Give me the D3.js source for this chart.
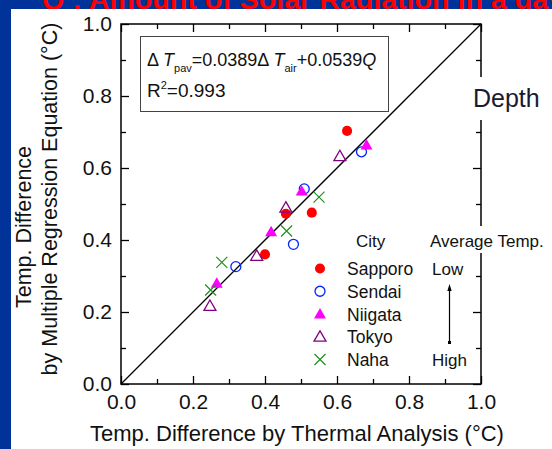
<!DOCTYPE html>
<html><head><meta charset="utf-8">
<script src="https://cdn.jsdelivr.net/npm/d3@7"></script>
<style>html,body{margin:0;padding:0;background:#fff;}svg{display:block;}</style>
</head><body>
<svg id="c" width="552" height="449"></svg>
<script>
// ---- data ----
const cities = ["Sapporo", "Sendai", "Niigata", "Tokyo", "Naha"];
const sapporoX = [0.628, 0.530, 0.458, 0.400];
const sapporoY = [0.703, 0.476, 0.473, 0.360];
const sendaiX  = [0.668, 0.509, 0.479, 0.319];
const sendaiY  = [0.645, 0.542, 0.388, 0.326];
const niigataX = [0.682, 0.502, 0.417, 0.266];
const niigataY = [0.664, 0.536, 0.423, 0.280];
const tokyoX   = [0.608, 0.458, 0.377, 0.247];
const tokyoY   = [0.633, 0.490, 0.356, 0.217];
const nahaX    = [0.550, 0.460, 0.280, 0.249];
const nahaY    = [0.519, 0.425, 0.338, 0.261];
const majorTicks = [0.0, 0.2, 0.4, 0.6, 0.8, 1.0];
const minorTicks = [0.1, 0.3, 0.5, 0.7, 0.9];
const fitLine = [0, 1];

const seriesX = [sapporoX, sendaiX, niigataX, tokyoX, nahaX];
const seriesY = [sapporoY, sendaiY, niigataY, tokyoY, nahaY];

const styles = [
  {type: d3.symbolCircle, size: 80, fill: "#ff0000", stroke: "none"},
  {type: d3.symbolCircle, size: 78, fill: "none", stroke: "#0022ff"},
  {type: d3.symbolTriangle, size: 62, fill: "#ff00ff", stroke: "none"},
  {type: d3.symbolTriangle, size: 62, fill: "none", stroke: "#800080"},
  {type: "x", size: 5.5, fill: "none", stroke: "#1f8f1f"}
];

const svg = d3.select("#c");
const font = "Arial, 'Liberation Sans', sans-serif";

// slide background
svg.append("rect").attr("width", 552).attr("height", 449).attr("fill", "#003399");
svg.append("text").attr("x", 42).attr("y", 9)
  .attr("font-family", font).attr("font-size", 27).attr("font-weight", "bold")
  .attr("textLength", 522).attr("lengthAdjust", "spacingAndGlyphs")
  .attr("fill", "#ff0000").text("Q : Amount of Solar Radiation in a day");
svg.append("rect").attr("x", 11).attr("y", 9).attr("width", 541).attr("height", 440).attr("fill", "#fff");

const x = d3.scaleLinear().domain([0, 1]).range([121, 481]);
const y = d3.scaleLinear().domain([0, 1]).range([384, 24]);

function styleAxis(g) {
  g.select(".domain").remove();
  g.selectAll("line").attr("stroke", "#000").attr("stroke-width", 1.3);
  g.selectAll("text").attr("font-family", font).attr("font-size", 21).attr("fill", "#111");
}

// major axes with labels
svg.append("g").attr("transform", `translate(0,${y(0)})`)
  .call(d3.axisBottom(x).tickValues(majorTicks).tickSizeInner(-8).tickSizeOuter(0)
    .tickPadding(10).tickFormat(d3.format(".1f"))).call(styleAxis);
svg.append("g").attr("transform", `translate(${x(0)},0)`)
  .call(d3.axisLeft(y).tickValues(majorTicks).tickSizeInner(-8).tickSizeOuter(0)
    .tickPadding(9).tickFormat(d3.format(".1f"))).call(styleAxis);
// minor ticks
svg.append("g").attr("transform", `translate(0,${y(0)})`)
  .call(d3.axisBottom(x).tickValues(minorTicks).tickSizeInner(-5).tickSizeOuter(0).tickFormat("")).call(styleAxis);
svg.append("g").attr("transform", `translate(${x(0)},0)`)
  .call(d3.axisLeft(y).tickValues(minorTicks).tickSizeInner(-5).tickSizeOuter(0).tickFormat("")).call(styleAxis);
// top and right
svg.append("g").attr("transform", `translate(0,${y(1)})`)
  .call(d3.axisTop(x).tickValues(majorTicks).tickSizeInner(-8).tickSizeOuter(0).tickFormat("")).call(styleAxis);
svg.append("g").attr("transform", `translate(0,${y(1)})`)
  .call(d3.axisTop(x).tickValues(minorTicks).tickSizeInner(-5).tickSizeOuter(0).tickFormat("")).call(styleAxis);
svg.append("g").attr("transform", `translate(${x(1)},0)`)
  .call(d3.axisRight(y).tickValues(majorTicks).tickSizeInner(-8).tickSizeOuter(0).tickFormat("")).call(styleAxis);
svg.append("g").attr("transform", `translate(${x(1)},0)`)
  .call(d3.axisRight(y).tickValues(minorTicks).tickSizeInner(-5).tickSizeOuter(0).tickFormat("")).call(styleAxis);

// frame
svg.append("rect").attr("x", x(0)).attr("y", y(1)).attr("width", x(1) - x(0)).attr("height", y(0) - y(1))
  .attr("fill", "none").attr("stroke", "#000").attr("stroke-width", 1.5);

// 1:1 line
svg.append("line").attr("x1", x(fitLine[0])).attr("y1", y(fitLine[0]))
  .attr("x2", x(fitLine[1])).attr("y2", y(fitLine[1]))
  .attr("stroke", "#000").attr("stroke-width", 1.3);

// marker drawing
function marker(g, st, cx, cy) {
  if (st.type === "x") {
    const s = st.size;
    g.append("path").attr("d", `M${cx - s},${cy - s}L${cx + s},${cy + s}M${cx - s},${cy + s}L${cx + s},${cy - s}`)
      .attr("stroke", st.stroke).attr("stroke-width", 1.2).attr("fill", "none");
  } else {
    g.append("path").attr("d", d3.symbol().type(st.type).size(st.size)())
      .attr("transform", `translate(${cx},${cy + (st.type === d3.symbolTriangle ? 1 : 0)})`)
      .attr("fill", st.fill).attr("stroke", st.stroke).attr("stroke-width", 1.3);
  }
}

const pts = svg.append("g");
seriesX.forEach((xs, i) => {
  xs.forEach((v, j) => marker(pts, styles[i], x(v), y(seriesY[i][j])));
});

// equation box
svg.append("rect").attr("x", 140.5).attr("y", 36.5).attr("width", 248).attr("height", 75)
  .attr("fill", "#fff").attr("stroke", "#444").attr("stroke-width", 1);
const eq = svg.append("text").attr("x", 147).attr("y", 66).attr("font-family", font).attr("font-size", 18).attr("fill", "#111");
eq.append("tspan").text("\u0394 ");
eq.append("tspan").attr("font-style", "italic").text("T");
eq.append("tspan").attr("font-size", 11).attr("dy", 6).text("pav");
eq.append("tspan").attr("dy", -6).text("=0.0389\u0394 ");
eq.append("tspan").attr("font-style", "italic").text("T");
eq.append("tspan").attr("font-size", 11).attr("dy", 6).text("air");
eq.append("tspan").attr("dy", -6).text("+0.0539");
eq.append("tspan").attr("font-style", "italic").text("Q");
const r2 = svg.append("text").attr("x", 147).attr("y", 97).attr("font-family", font).attr("font-size", 19).attr("fill", "#111");
r2.append("tspan").text("R");
r2.append("tspan").attr("font-size", 11).attr("dy", -8).text("2");
r2.append("tspan").attr("dy", 8).text("=0.993");

// Depth label (with white background)
svg.append("rect").attr("x", 470).attr("y", 77).attr("width", 82).attr("height", 43).attr("fill", "#fff");
svg.append("text").attr("x", 473).attr("y", 107).attr("font-family", font).attr("font-size", 25)
  .attr("fill", "#1a1a30").text("Depth");

// legend
svg.append("rect").attr("x", 428).attr("y", 226).attr("width", 118).attr("height", 27).attr("fill", "#fff");
svg.append("text").attr("x", 356).attr("y", 247).attr("font-family", font).attr("font-size", 17).attr("fill", "#111").text("City");
svg.append("text").attr("x", 430).attr("y", 247).attr("font-family", font).attr("font-size", 17).attr("fill", "#111").text("Average Temp.");
const leg = svg.append("g");
cities.forEach((c, i) => {
  const by = 275 + i * 22.75;
  marker(leg, styles[i], 320, by - 6.5);
  leg.append("text").attr("x", 347).attr("y", by).attr("font-family", font).attr("font-size", 17.5)
    .attr("fill", "#111").text(c);
});
svg.append("text").attr("x", 432).attr("y", 275).attr("font-family", font).attr("font-size", 17).attr("fill", "#111").text("Low");
svg.append("text").attr("x", 432).attr("y", 366).attr("font-family", font).attr("font-size", 17).attr("fill", "#111").text("High");
svg.append("line").attr("x1", 449.5).attr("y1", 289).attr("x2", 449.5).attr("y2", 342).attr("stroke", "#000").attr("stroke-width", 1.2);
svg.append("path").attr("d", "M449.5,284L447.3,291L451.7,291Z").attr("fill", "#000");
svg.append("rect").attr("x", 448).attr("y", 341).attr("width", 3).attr("height", 3).attr("fill", "#000");

// axis titles
svg.append("text").attr("x", 297).attr("y", 441).attr("text-anchor", "middle")
  .attr("font-family", font).attr("font-size", 22).attr("fill", "#111")
  .text("Temp. Difference by Thermal Analysis (\u00B0C)");
svg.append("text").attr("transform", "translate(31,227) rotate(-90)").attr("text-anchor", "middle")
  .attr("font-family", font).attr("font-size", 21.5).attr("fill", "#111").text("Temp. Difference");
svg.append("text").attr("transform", "translate(57,199) rotate(-90)").attr("text-anchor", "middle")
  .attr("font-family", font).attr("font-size", 21.5).attr("fill", "#111")
  .text("by Multiple Regression Equation (\u00B0C)");
</script>
</body></html>
